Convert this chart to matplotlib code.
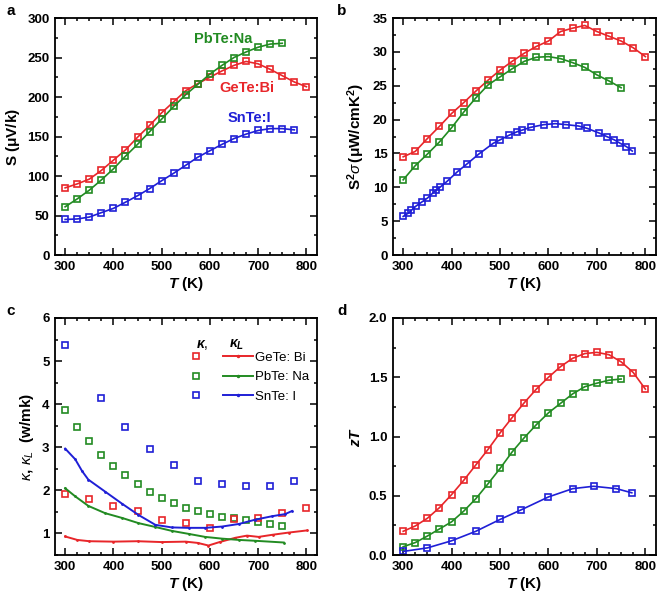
import matplotlib
matplotlib.use("Agg")
import matplotlib.pyplot as plt
from matplotlib.ticker import MultipleLocator, FormatStrFormatter
from matplotlib.lines import Line2D
from matplotlib.legend_handler import HandlerTuple

plt.rcParams['font.family'] = ['Liberation Sans', 'DejaVu Sans']
plt.rcParams['mathtext.fontset'] = 'custom'
plt.rcParams['mathtext.rm'] = 'Liberation Sans'
plt.rcParams['mathtext.it'] = 'Liberation Sans:italic'
plt.rcParams['mathtext.bf'] = 'Liberation Sans:bold'
plt.rcParams['mathtext.bfit'] = 'Liberation Sans:italic:bold'

RED = '#e8262a'
GREEN = '#228b22'
BLUE = '#1f1fd6'

# ---------------- data ----------------
T25 = [300, 325, 350, 375, 400, 425, 450, 475, 500, 525, 550, 575, 600,
       625, 650, 675, 700, 725, 750, 775, 800]

# (a) Seebeck coefficient
S_T_gete = T25
S_gete = [85, 90, 96, 107, 120, 133, 149, 164, 180, 194, 208, 217, 225,
          233, 240, 245, 242, 235, 227, 219, 213]
S_T_pbte = T25[:19]
S_pbte = [61, 71, 82, 95, 109, 125, 140, 156, 172, 188, 203, 216, 229,
          240, 250, 257, 263, 267, 268]
S_T_snte = T25[:20]
S_snte = [45, 45.6, 48, 53.6, 59, 66.8, 75, 84, 94, 103.5, 113.6, 123.8,
          132, 140, 147.4, 153, 157.6, 160, 160, 158.4]

# (b) Power factor
PF_T_gete = T25
PF_gete = [14.5, 15.3, 17.2, 19.0, 20.9, 22.5, 24.2, 25.8, 27.3, 28.6, 29.8,
           30.8, 31.6, 33.0, 33.5, 33.9, 33.0, 32.3, 31.6, 30.6, 29.3]
PF_T_pbte = T25[:19]
PF_pbte = [11.1, 13.2, 14.9, 16.7, 18.8, 21.1, 23.2, 25.1, 26.3, 27.5, 28.6,
           29.2, 29.3, 29.0, 28.4, 27.7, 26.6, 25.7, 24.7]
PF_T_snte = [300, 311, 317, 326, 338, 350, 362, 368, 376, 391, 412, 431, 456,
             486, 500, 519, 535, 546, 563, 590, 614, 637, 662, 680, 705, 720,
             736, 748, 761, 773]
PF_snte = [5.7, 6.2, 6.6, 7.2, 7.8, 8.4, 9.2, 9.6, 10.0, 10.9, 12.3, 13.4,
           14.9, 16.5, 17.0, 17.7, 18.2, 18.45, 18.85, 19.25, 19.4, 19.25,
           19.05, 18.7, 18.0, 17.5, 17.0, 16.5, 16.0, 15.35]

# (c) Thermal conductivity (total: squares, lattice: lines)
K_T_gete = [300, 350, 400, 450, 500, 550, 600, 650, 700, 750, 800]
K_gete = [1.91, 1.80, 1.64, 1.52, 1.31, 1.25, 1.12, 1.33, 1.36, 1.48, 1.59]
K_T_pbte = T25[:19]
K_pbte = [3.86, 3.48, 3.15, 2.83, 2.56, 2.36, 2.15, 1.96, 1.82, 1.70, 1.60,
          1.51, 1.44, 1.39, 1.35, 1.32, 1.26, 1.22, 1.18]
K_T_snte = [300, 375, 425, 475, 525, 575, 625, 675, 725, 775]
K_snte = [5.37, 4.14, 3.48, 2.97, 2.60, 2.22, 2.15, 2.11, 2.11, 2.22]

KL_T_gete = [300, 325, 350, 400, 450, 500, 550, 575, 597, 620, 653, 677,
             701, 730, 763, 801]
KL_gete = [0.93, 0.85, 0.82, 0.81, 0.82, 0.80, 0.81, 0.78, 0.72, 0.80, 0.90,
           0.95, 0.92, 0.97, 1.02, 1.07]
KL_T_pbte = [300, 321, 348, 383, 418, 452, 487, 521, 556, 590, 625, 660,
             694, 753]
KL_pbte = [2.05, 1.86, 1.64, 1.47, 1.36, 1.24, 1.15, 1.06, 0.99, 0.92, 0.88,
           0.85, 0.83, 0.79]
KL_T_snte = [300, 321, 335, 348, 383, 418, 452, 487, 521, 556, 590, 625,
             660, 694, 729, 756, 770]
KL_snte = [2.97, 2.72, 2.45, 2.25, 1.97, 1.69, 1.43, 1.20, 1.14, 1.13, 1.13,
           1.16, 1.22, 1.32, 1.40, 1.45, 1.52]

# (d) zT
ZT_T_gete = T25
ZT_gete = [0.20, 0.245, 0.31, 0.40, 0.51, 0.63, 0.76, 0.89, 1.03, 1.16,
           1.285, 1.40, 1.50, 1.59, 1.66, 1.70, 1.71, 1.69, 1.63, 1.54, 1.40]
ZT_T_pbte = T25[:19]
ZT_pbte = [0.07, 0.105, 0.16, 0.22, 0.28, 0.37, 0.475, 0.60, 0.73, 0.87,
           0.99, 1.10, 1.20, 1.28, 1.36, 1.42, 1.45, 1.475, 1.485]
ZT_T_snte = [300, 350, 400, 450, 500, 543, 600, 650, 693, 740, 772]
ZT_snte = [0.03, 0.06, 0.12, 0.20, 0.30, 0.38, 0.49, 0.56, 0.58, 0.56, 0.525]

# ---------------- figure ----------------
fig = plt.figure(figsize=(6.62, 5.99), dpi=100)
W, H = 662, 599


def add_ax(l, t, r, b):
    return fig.add_axes([l / W, 1 - b / H, (r - l) / W, (b - t) / H])


axa = add_ax(55, 18, 317, 255)
axb = add_ax(393, 18, 656, 255)
axc = add_ax(55, 318, 317, 555)
axd = add_ax(393, 318, 656, 555)

mk = dict(marker='s', ms=5, mfc='none', mew=1.2)


def style(ax, ymaj, ymin):
    ax.set_xlim(279, 822)
    ax.xaxis.set_major_locator(MultipleLocator(100))
    ax.xaxis.set_minor_locator(MultipleLocator(25))
    ax.yaxis.set_major_locator(MultipleLocator(ymaj))
    ax.yaxis.set_minor_locator(MultipleLocator(ymin))
    ax.tick_params(which='both', direction='in', top=True, right=True,
                   width=1.1)
    ax.tick_params(which='major', length=5, labelsize=9.5, pad=4)
    ax.tick_params(which='minor', length=2.5)
    for lab in ax.get_xticklabels() + ax.get_yticklabels():
        lab.set_fontweight('bold')
    for s in ax.spines.values():
        s.set_linewidth(1.3)
    ax.set_xlabel(r'$\mathbfit{T}$ (K)', fontsize=11,
                  fontweight='bold', labelpad=2)


# (a)
axa.plot(S_T_gete, S_gete, color=RED, lw=1.2, **mk)
axa.plot(S_T_pbte, S_pbte, color=GREEN, lw=1.2, **mk)
axa.plot(S_T_snte, S_snte, color=BLUE, lw=1.2, **mk)
axa.set_ylim(0, 300)
style(axa, 50, 25)
axa.set_ylabel(r'S ($\mathbf{\mu}$V/k)', fontsize=11, fontweight='bold')
axa.text(628, 273, 'PbTe:Na', color=GREEN, fontsize=10.5,
         fontweight='bold', ha='center', va='center')
axa.text(677, 212, 'GeTe:Bi', color=RED, fontsize=10.5,
         fontweight='bold', ha='center', va='center')
axa.text(681, 174, 'SnTe:I', color=BLUE, fontsize=10.5,
         fontweight='bold', ha='center', va='center')

# (b)
axb.plot(PF_T_gete, PF_gete, color=RED, lw=1.2, **mk)
axb.plot(PF_T_pbte, PF_pbte, color=GREEN, lw=1.2, **mk)
axb.plot(PF_T_snte, PF_snte, color=BLUE, lw=1.2, **mk)
axb.set_ylim(0, 35)
style(axb, 5, 2.5)
axb.set_ylabel(r'$\mathbf{S^2}\sigma\,$($\mathbf{\mu}$W/cmK$\mathbf{^2}$)',
               fontsize=11, fontweight='bold')

# (c)
lk = dict(marker='o', ms=1.0, lw=1.4)
axc.plot(K_T_pbte, K_pbte, color=GREEN, ls='none', **mk)
axc.plot(K_T_gete, K_gete, color=RED, ls='none', **mk)
axc.plot(K_T_snte, K_snte, color=BLUE, ls='none', **mk)
axc.plot(KL_T_gete, KL_gete, color=RED, **lk)
axc.plot(KL_T_pbte, KL_pbte, color=GREEN, **lk)
axc.plot(KL_T_snte, KL_snte, color=BLUE, **lk)
axc.set_ylim(0.5, 6)
style(axc, 1, 0.5)
axc.set_ylabel(r'$\kappa$, $\kappa_L$  (w/mk)', fontsize=11,
               fontweight='bold')

handles = []
labels = ['GeTe: Bi', 'PbTe: Na', 'SnTe: I']
for c in (RED, GREEN, BLUE):
    h1 = Line2D([], [], color=c, ls='none', **mk)
    h2 = Line2D([], [], color=c, marker='o', ms=1.5, lw=1.4)
    handles.append((h1, h2))
leg = axc.legend(handles, labels,
                 handler_map={tuple: HandlerTuple(ndivide=None, pad=0.9)},
                 loc='upper left', bbox_to_anchor=(0.462, 0.88), frameon=False,
                 fontsize=9.5, handlelength=5.4, handletextpad=0.2,
                 labelspacing=0.55, borderaxespad=0)
axc.text(0.538, 0.885, r'$\mathbfit{\kappa}$,', transform=axc.transAxes,
         fontsize=10, ha='left', va='center')
axc.text(0.665, 0.885, r'$\mathbfit{\kappa_L}$', transform=axc.transAxes,
         fontsize=10, ha='left', va='center')

# (d)
axd.plot(ZT_T_gete, ZT_gete, color=RED, lw=1.2, **mk)
axd.plot(ZT_T_pbte, ZT_pbte, color=GREEN, lw=1.2, **mk)
axd.plot(ZT_T_snte, ZT_snte, color=BLUE, lw=1.2, **mk)
axd.set_ylim(0, 2.0)
style(axd, 0.5, 0.25)
axd.yaxis.set_major_formatter(FormatStrFormatter('%.1f'))
axd.set_ylabel(r'$\mathbfit{zT}$', fontsize=11)

for (x, y, s) in [(6, 4, 'a'), (337, 4, 'b'), (6, 304, 'c'), (337, 304, 'd')]:
    fig.text(x / W, 1 - y / H, s, fontsize=11, fontweight='bold',
             ha='left', va='top')

fig.savefig('out.png', dpi=100)
